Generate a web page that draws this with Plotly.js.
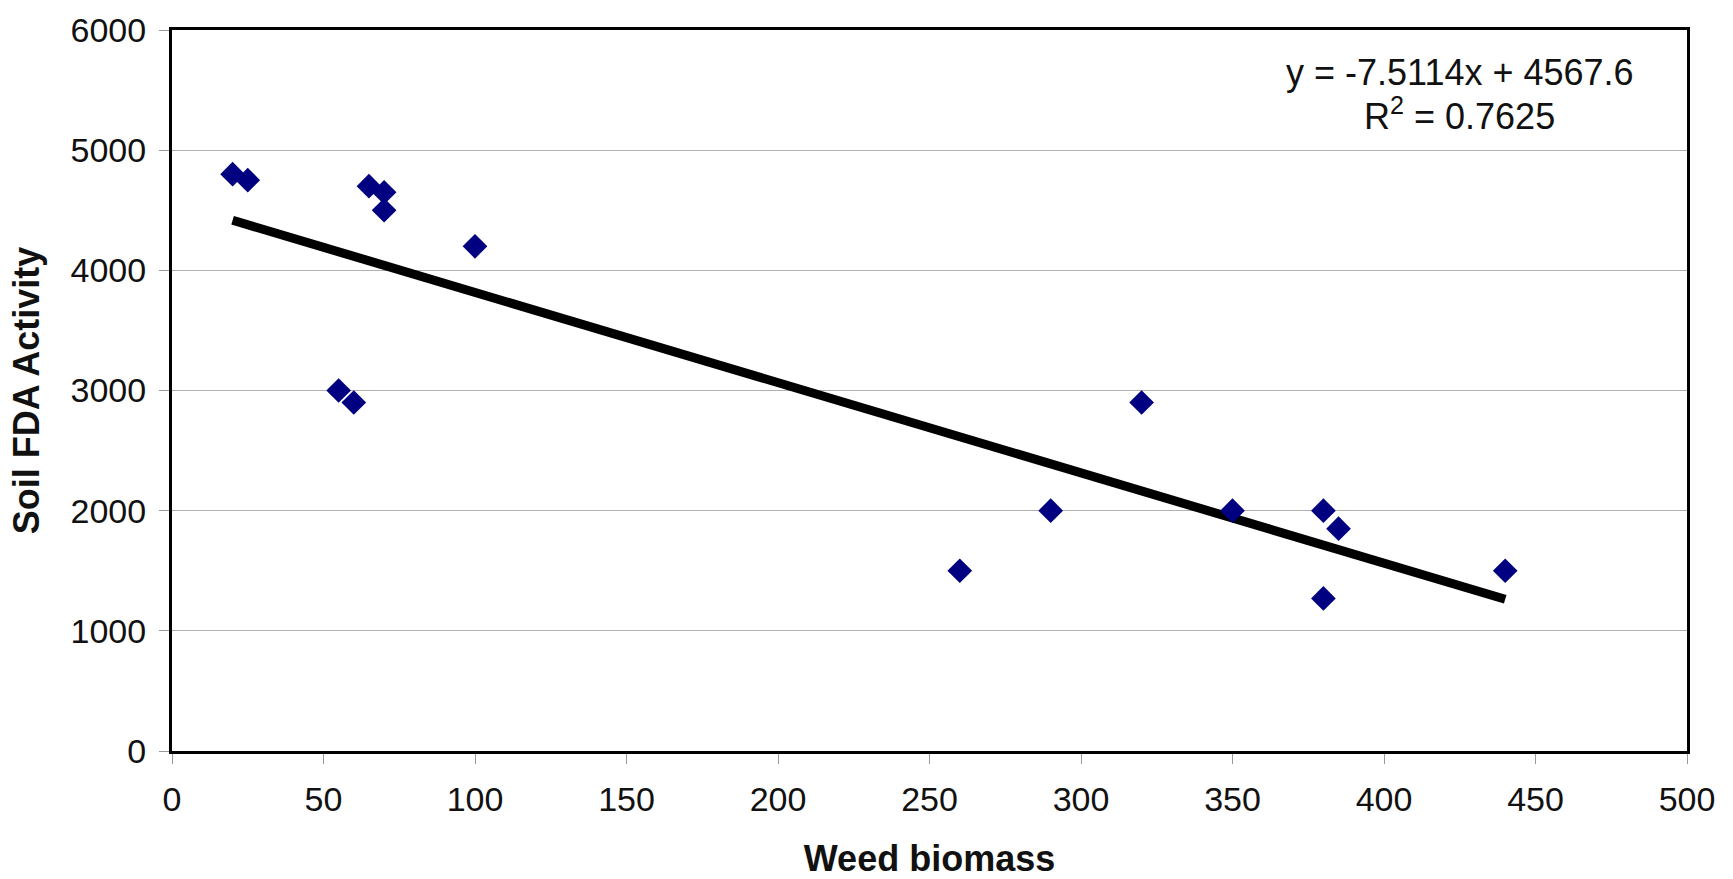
<!DOCTYPE html>
<html>
<head>
<meta charset="utf-8">
<script src="https://cdn.plot.ly/plotly-3.0.1.min.js"></script>
<style>html,body{margin:0;padding:0;background:#fff;}#chart{width:1733px;height:879px;}</style>
</head>
<body>
<div id="chart"></div>
<script>
// Data
const weedBiomass = [20, 25, 65, 70, 70, 100, 55, 60, 260, 290, 320, 350, 380, 385, 380, 440];
const fdaActivity = [4800, 4750, 4700, 4650, 4500, 4200, 3000, 2900, 1500, 2000, 2900, 2000, 2000, 1850, 1270, 1500];
const trendX = [20, 440];
const trendY = [4417, 1263];
const equationText = "y = -7.5114x + 4567.6";
const r2Text = "R<sup>2</sup> = 0.7625";
const xTickVals = [0, 50, 100, 150, 200, 250, 300, 350, 400, 450, 500];
const yTickVals = [0, 1000, 2000, 3000, 4000, 5000, 6000];
const xTitle = "Weed biomass";
const yTitle = "Soil FDA Activity";

const FONT = "Liberation Sans, Arial, sans-serif";

const traces = [
  {
    x: trendX, y: trendY, type: "scatter", mode: "lines",
    line: {color: "#000000", width: 9}, hoverinfo: "skip"
  },
  {
    x: weedBiomass, y: fdaActivity, type: "scatter", mode: "markers",
    marker: {symbol: "diamond", size: 19, color: "#000080", line: {width: 0}}
  }
];

const layout = {
  width: 1733, height: 879,
  margin: {l: 172, r: 46, t: 30, b: 128},
  paper_bgcolor: "#ffffff", plot_bgcolor: "#ffffff",
  showlegend: false,
  font: {family: FONT, color: "#111111", size: 34},
  xaxis: {
    range: [0, 500], tickvals: xTickVals, ticktext: xTickVals.map(String),
    showgrid: false, zeroline: false,
    showline: true, mirror: true, linecolor: "#000000", linewidth: 3,
    ticks: "outside", ticklen: 10, tickwidth: 1, tickcolor: "#999999",
    ticklabelstandoff: 6,
    tickfont: {family: FONT, size: 34, color: "#111111"},
    title: {text: "<b>" + xTitle + "</b>", font: {family: FONT, size: 36, color: "#111111"}, standoff: 30},
    automargin: false
  },
  yaxis: {
    range: [0, 6000], tickvals: yTickVals, ticktext: yTickVals.map(String),
    showgrid: true, gridcolor: "#b0b0b0", gridwidth: 1, zeroline: false,
    showline: true, mirror: true, linecolor: "#000000", linewidth: 3,
    ticks: "outside", ticklen: 10, tickwidth: 1, tickcolor: "#999999",
    ticklabelstandoff: 6,
    tickfont: {family: FONT, size: 34, color: "#111111"},
    title: {text: "<b>" + yTitle + "</b>", font: {family: FONT, size: 36, color: "#111111"}, standoff: 20},
    automargin: false
  },
  annotations: [
    {xref: "paper", yref: "paper", x: 0.850, y: 0.941, xanchor: "center", yanchor: "middle",
     text: equationText, showarrow: false, font: {family: FONT, size: 36, color: "#111111"}},
    {xref: "paper", yref: "paper", x: 0.850, y: 0.884, xanchor: "center", yanchor: "middle",
     text: r2Text, showarrow: false, font: {family: FONT, size: 36, color: "#111111"}}
  ]
};

Plotly.newPlot("chart", traces, layout, {displayModeBar: false, staticPlot: true});
</script>
</body>
</html>
